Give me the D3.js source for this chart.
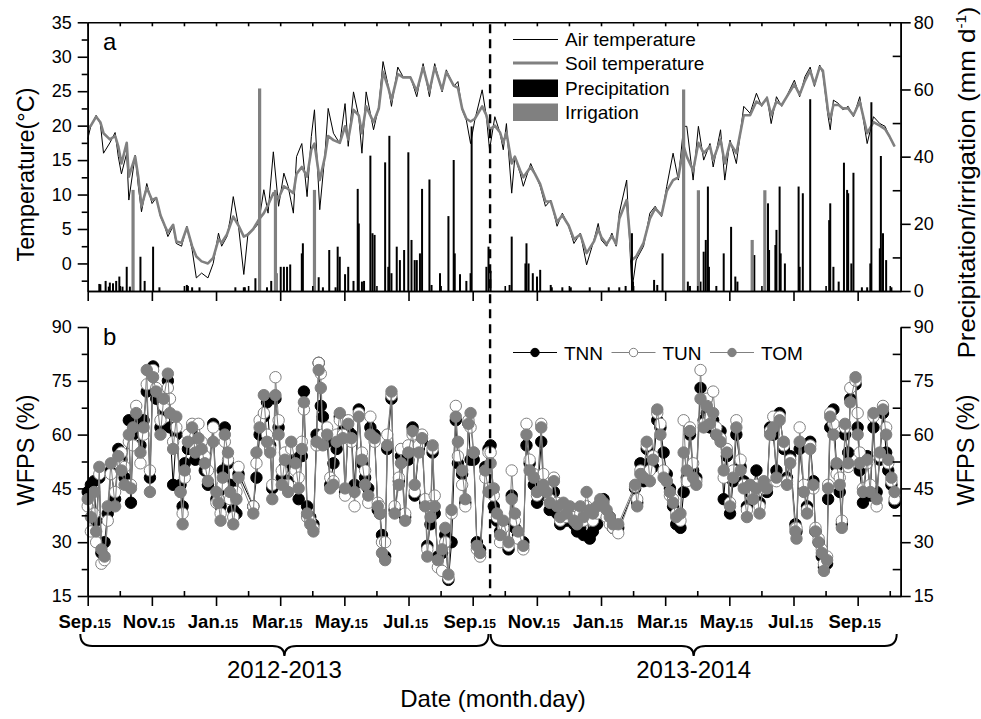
<!DOCTYPE html>
<html>
<head>
<meta charset="utf-8">
<script src="https://cdn.jsdelivr.net/npm/d3@7"></script>
<style>
  body { margin: 0; background: #fff; }
  svg { display: block; }
</style>
</head>
<body>
<script>
// ---- data (day index counted from Sep 15 2012) ----
var airTemp = [[0,18],[3,20],[8,21.5],[12,20.3],[15,16],[21,17.5],[26,19],[29,15.5],[32,13],[37,16],
  [39,9.2],[45,15.7],[48,11.2],[51,7.5],[56,11.6],[61,8.7],[65,9.5],[69,6.8],[73,5.4],[76,3.9],
  [81,5.4],[84,2.9],[89,2.5],[94,5.4],[99,2],[103,-2.1],[108,-1.4],[114,-2.1],[119,0],[124,4.4],
  [127,2.5],[132,3.9],[135,6.3],[138,9.7],[143,5.4],[148,-1.6],[152,4.4],[157,4.9],[162,5.8],[167,10.7],
  [171,7.3],[176,16.2],[181,8.3],[186,13.1],[190,11.2],[195,7.3],[198,15.5],[203,17.4],[208,9.7],[212,18.4],
  [215,22.3],[220,7.8],[225,16],[228,22.5],[233,18.9],[239,17.4],[244,23.2],[247,17],[252,24.9],[257,21.3],
  [260,16],[264,24.9],[271,19.4],[276,22.8],[280,29.3],[285,25.7],[288,22.8],[294,28.5],[299,27.1],[306,27.1],
  [312,24.2],[318,29],[324,24.2],[329,29],[336,24.9],[340,28.1],[347,25.7],[351,26.4],[355,22.3],[359,20.8],
  [363,17.4],[367,20.8],[374,25.2],[378,21.3],[381,16.5],[386,21.3],[391,18.9],[394,16.5],[397,20.3],[402,10.2],
  [405,15.5],[410,13.1],[413,11.2],[420,14.5],[424,13.1],[429,11.2],[434,8.3],[439,9.2],[445,5.4],[450,7.3],
  [456,5.4],[461,2.9],[467,4.4],[473,-0.2],[480,3.4],[484,5.8],[487,3.4],[492,2.5],[497,4.4],[501,2.5],
  [504,7.3],[511,12.1],[516,-3.8],[520,0.5],[527,2.5],[533,7.3],[538,8.3],[544,6.8],[549,11.2],[555,16],
  [560,12.1],[565,19.9],[568,19.9],[574,12.1],[579,19.9],[584,15],[590,17.4],[593,14],[600,19.4],[604,12.1],
  [609,17.9],[615,14.5],[622,22.8],[628,21.8],[634,24.7],[639,22.8],[644,24.2],[648,20.3],[653,24.2],[658,22.8],
  [664,24.7],[670,26.6],[675,24.2],[680,27.1],[685,28.5],[689,25.7],[694,28.8],[697,27.6],[702,21.3],[704,19.4],
  [707,23.7],[712,23.2],[716,22.3],[721,22.8],[726,21.3],[732,24.2],[739,17.4],[745,21.3],[751,20.3],[756,19.9],
  [760,18.4],[765,17]];

var soilTemp = [[0,19.6],[3,20],[8,21.3],[12,20.5],[15,18.9],[21,18],[26,18.5],[29,17],[32,14.5],[37,17.5],
  [39,12.6],[45,15.5],[48,12.5],[51,8.3],[56,11],[61,9.2],[65,9.5],[69,7],[73,5.5],[76,4.5],
  [81,5.6],[84,3.2],[89,3],[94,5.2],[99,2.5],[103,1],[108,0.3],[114,0],[119,0.8],[124,3.5],
  [127,3],[132,4.2],[135,5.5],[138,6.8],[143,5.5],[148,3.9],[152,4.2],[157,5],[162,6.3],[167,7.3],
  [171,8.5],[176,10.2],[181,9.5],[186,11.2],[190,10.8],[195,10.2],[198,13],[203,14],[208,12.6],[212,16.5],
  [215,17.4],[220,12.1],[225,15.5],[228,18.5],[233,17.9],[239,17.5],[244,19.9],[247,18],[252,22.3],[257,21.5],
  [260,18.9],[264,22.8],[271,20.5],[276,22.5],[280,27.8],[285,25.5],[288,23.7],[294,27.5],[299,27],[306,27],
  [312,25],[318,28.5],[324,25],[329,28.5],[336,25.2],[340,27.8],[347,25.8],[351,25.5],[355,22.5],[359,21],
  [363,20.6],[367,21],[374,22.8],[378,21.5],[381,19.4],[386,20],[391,19],[394,17.5],[397,19],[402,14.5],
  [405,15.5],[410,13.5],[413,12.5],[420,14],[424,13],[429,11.5],[434,9],[439,9],[445,6],[450,7],
  [456,5.5],[461,3.5],[467,4.2],[473,1.5],[480,3.2],[484,5],[487,3.8],[492,2.8],[497,4],[501,2.8],
  [504,6.5],[511,9.2],[516,0.5],[520,1],[527,3],[533,6.5],[538,8],[544,7],[549,10.5],[555,12.1],
  [560,12.5],[565,17],[568,15.5],[574,13.5],[579,17.5],[584,16],[590,17],[593,15],[600,18],[604,14.5],
  [609,17.5],[615,16],[622,21.5],[628,21.5],[634,23.5],[639,23],[644,24],[648,21.5],[653,23.5],[658,23],
  [664,24.5],[670,26],[675,24.5],[680,26.5],[685,28],[689,26],[694,28.5],[697,28],[702,22],[704,21],
  [707,23],[712,23],[716,22.5],[721,22.5],[726,21.5],[732,23.5],[739,18.9],[745,20.5],[751,20],[756,19.5],
  [760,18.5],[765,17]];

var precipitation = [[11,2.1],[12,2],[17,3],[20,1.3],[21,2.5],[24,2.3],[27,3],[30,4.3],[33,1.3],[37,7.2],
  [40,1.3],[50,10.2],[54,3],[62,13.2],[68,1.1],[94,1.8],[95,1.5],[99,1.1],[106,1.1],[140,1.1],
  [148,1.1],[149,1.1],[159,3.8],[170,1.1],[174,3],[179,5.3],[183,7.2],[186,7.2],[189,7.2],[192,7.9],
  [203,11.2],[204,14.2],[219,4.1],[223,1.1],[229,12.2],[235,1.1],[237,13.2],[239,10.2],[244,5],[247,7.2],
  [252,3],[256,30.4],[257,20.1],[260,2.8],[262,3],[268,40.3],[270,17.2],[272,16.7],[282,38.3],[285,7.2],
  [286,46.2],[288,5.3],[293,13.2],[296,9.2],[300,12.2],[304,41.3],[307,15.2],[310,9.2],[312,9.2],[315,11.2],
  [317,30.4],[324,33.2],[326,1.8],[334,5.3],[342,22.3],[347,39],[348,11.2],[353,5],[359,3],[363,5.3],
  [364,49],[378,7.2],[380,13.2],[382,6],[400,1.8],[402,16.2],[415,8.2],[416,14.2],[418,8.2],[422,5.3],
  [426,4.3],[429,6.3],[439,1.8],[440,1.1],[450,1.1],[458,1.1],[476,1.1],[494,1.1],[504,1.1],[510,1.5],
  [516,17.2],[517,2.8],[537,3.3],[540,1.8],[545,11.2],[569,2.8],[571,1.5],[581,2.8],[584,11.7],[586,15.2],
  [588,31.1],[589,7.2],[596,1.5],[603,11.2],[610,19.1],[614,4.3],[616,2.8],[632,10.7],[645,26.1],[646,12.2],
  [652,13.7],[653,18.2],[656,31.1],[657,11.2],[661,8.2],[674,31.1],[675,7.2],[678,29.1],[685,57.1],[703,21.1],
  [704,26.1],[707,7.2],[712,2.8],[717,38.2],[720,30.1],[721,29.1],[724,8.2],[726,35.2],[734,1.1],[739,1.1],
  [742,8.2],[743,56.2],[751,12.7],[752,40.2],[754,17.2],[757,9.2],[762,1.1]];

var irrigation = [[43,30.1],[163,60.3],[178,30.1],[215,30.1],[565,60],[579,30],[630,15.2],[642,30]];

var wfpsDays = [0,3,6,8,11,13,16,19,22,26,
  29,32,35,39,41,43,46,50,53,56,
  59,62,65,69,72,76,78,81,84,88,
  90,92,95,99,102,105,108,111,114,119,
  122,124,126,128,130,133,135,138,141,143,
  157,160,163,167,170,173,175,178,181,184,
  187,190,193,197,200,203,205,208,211,214,
  217,219,221,223,227,230,233,236,239,242,
  244,247,250,253,257,260,263,266,268,272,
  275,277,279,282,284,288,291,295,297,301,
  304,308,310,314,317,320,322,325,327,329,
  332,336,339,342,345,349,351,355,358,361,
  363,366,369,372,377,380,382,385,388,391,
  394,399,402,405,408,413,416,419,423,426,
  430,432,435,438,442,445,448,451,454,457,
  461,464,467,470,473,476,479,483,486,489,
  492,495,498,503,519,521,524,527,530,533,
  536,540,543,546,549,552,555,558,562,565,
  568,571,574,577,581,584,587,590,593,596,
  600,603,606,609,612,615,619,622,625,628,
  631,634,637,641,644,647,650,653,656,660,
  663,666,671,672,675,679,682,685,688,690,
  693,696,698,701,702,704,707,710,713,715,
  718,721,723,728,730,732,735,739,742,745,
  748,751,754,757,759,762,765];

var tnn = [44,46,47,36,48,27,30,38,50,42,
  56,53,48,64,41,60,63,57,64,72,
  48,79,70,62,66,75,62,46,60,46,
  40,52,56,60,53,58,55,50,46,63,
  42,44,40,50,62,52,46,39,38,49,
  40,48,60,65,69,57,45,70,62,48,
  51,47,54,55,42,54,72,40,37,35,
  60,80,68,65,58,46,52,56,65,61,
  44,61,60,46,67,52,48,45,62,60,
  39,38,32,26,56,70,39,47,54,37,
  53,62,43,56,58,41,29,35,55,38,
  26,27,32,19.5,30,64,52,49,41,63,
  53,53,30,28,51,56,57,40,36,33,
  35,28,43,34,32,30,57,52,46,41,
  58,45,43,39,44,38,35,38,36,37,
  35,33,34,32,38,31,33,35,40,42,
  38,37,34,34,45,41,52,47,56,52,
  51,64,62,55,49,45,40,35,34,44,
  48,60,50,48,73,64,66,62,64,60,
  61,42,54,38,47,60,51,47,40,44,
  45,50,41,46,44,62,60,50,66,56,
  48,54,35,33,56,45,40,58,47,33,
  30,26,23,24,42,62,67,51,44,35,
  60,55,70,74,62,50,41,54,43,62,
  44,53,66,55,50,46,41];

var tun = [40,33,38,30,49,24,25,36,49,44,
  52,55,51,58,46,57,68,52,60,74,
  50,78,73,64,68,73,70,58,62,44,
  38,48,60,63,56,63,58,54,50,62,
  41,42,38,46,58,53,42,37,44,51,
  40,52,64,66,60,56,46,76,64,50,
  55,46,56,50,48,58,67,37,36,34,
  57,80,77,60,62,48,47,60,64,60,
  43,64,58,40,66,55,50,41,65,58,
  41,40,30,30,60,71,40,48,56,38,
  57,60,44,57,60,42,28,40,56,43,
  23,22,30,20,38,68,54,46,40,64,
  62,55,28,26,48,55,55,43,37,30,
  34,29,50,36,31,28,63,53,49,43,
  63,49,45,42,48,41,36,39,37,39,
  37,36,38,36,40,37,36,38,41,40,
  37,35,34,32.5,45.5,42,50,49,57,50,
  54,66,63,50,47,43,42,38,36,64,
  47,62,52,47,78,63,70,65,72,62,
  59,48,56,41,50,64,53,46,39,45,
  43,46,40,45,46,61,65,47,65,57,
  47,53,34,34,62,46,39,57,45,34,
  31,28,24,26,46,66,63,49,48,36,
  62,51,73,75,66,55,45,52,46,65,
  40,54,68,62,52,47,42];

var tom = [42,37,44,33,51,28,26,40,52,40,
  54,50,46,60,45,62,66,55,62,78,
  44,76,72,60,70,77,66,56,65,44,
  35,50,58,62,55,59,56,52,47,58,
  44,41,36,48,60,55,44,35,42,48,
  38,55,62,71,58,55,42,71,60,46,
  53,44,58,52,45,56,69,38,35,33,
  58,78,73,57,60,45,46,58,66,59,
  45,63,59,44,65,53,46,43,60,59,
  40,38,27,25,57,72,38,46,52,36,
  55,61,46,55,59,40,26,37,57,40,
  25,28,34,21,39,65,58,50,42,63,
  66,55,29,27,50,44,52,45,38,32,
  36,30,42,38,33,29,60,50,48,44,
  62,46,44,41,47,40,37,41,38,40,
  36,35,40,37,44,39,38,40,42,41,
  39,37,35,35,46,40,49,48,58,47,
  53,67,60,48,47,44,41,37,38,55,
  50,61,48,46,70,62,68,63,66,60,
  58,50,55,40,48,62,50,45,37,46,
  42,45,38,47,45,60,62,48,64,58,
  46,52,33,31,58,44,38,56,46,33,
  30,27,22,25,45,65,60,52,46,34,
  63,52,69,76,60,52,44,53,44,66,
  42,55,67,60,53,48,44];

var monthLabels = ['Sep.', 'Nov.', 'Jan.', 'Mar.', 'May.', 'Jul.', 'Sep.',
  'Nov.', 'Jan.', 'Mar.', 'May.', 'Jul.', 'Sep.'];
var seasons = [{label: '2012-2013', from: -7, to: 380}, {label: '2013-2014', from: 382, to: 767}];
var seasonSplit = 381.5;

var tempTicks = [0, 5, 10, 15, 20, 25, 30, 35];
var tempMinor = [-2.5, 2.5, 7.5, 12.5, 17.5, 22.5, 27.5, 32.5];
var rainTicks = [0, 20, 40, 60, 80];
var rainMinor = [10, 30, 50, 70];
var wfpsTicks = [15, 30, 45, 60, 75, 90];
var wfpsMinor = [22.5, 37.5, 52.5, 67.5, 82.5];

// ---- layout ----
var FONT = '"Liberation Sans", Arial, Helvetica, sans-serif';
var GRAY = '#808080';
var W = 981, H = 719;
var left = 87.7, right = 900.7;
var topA = 22.3, bottomA = 291, topB = 327, bottomB = 596;

var svg = d3.select('body').append('svg')
  .attr('width', W)
  .attr('height', H)
  .attr('font-family', FONT);

var x = d3.scaleLinear().domain([0, 770.8]).range([left, right]);
var yT = d3.scaleLinear().domain([-4, 35]).range([bottomA, topA]);
var yP = d3.scaleLinear().domain([0, 80]).range([bottomA, topA]);
var yW = d3.scaleLinear().domain([15, 90]).range([bottomB, topB]);

var monthStep = 365 / 12;
var monthTicks = d3.range(0, 26).map(function(k) { return k * monthStep; });
var labelTicks = monthTicks.filter(function(d, i) { return i % 2 === 0; });
var minorMonths = monthTicks.filter(function(d, i) { return i % 2 === 1; });

function drawAxis(gen, tx, ty, fontSize) {
  var g = svg.append('g')
    .attr('transform', 'translate(' + tx + ',' + ty + ')')
    .call(gen.tickSizeOuter(0));
  g.attr('font-family', FONT).attr('font-size', fontSize || 18);
  g.select('.domain').attr('stroke', '#000').attr('stroke-width', 1.6);
  g.selectAll('.tick line').attr('stroke', '#000').attr('stroke-width', 1.6);
  g.selectAll('.tick text').attr('fill', '#000');
  return g;
}
var noLabel = function() { return ''; };

// ---- panel a ----
var lineT = d3.line()
  .x(function(d) { return x(d[0]); })
  .y(function(d) { return yT(d[1]); });

svg.append('path').datum(airTemp)
  .attr('d', lineT).attr('fill', 'none')
  .attr('stroke', '#000').attr('stroke-width', 1);
svg.append('path').datum(soilTemp)
  .attr('d', lineT).attr('fill', 'none')
  .attr('stroke', GRAY).attr('stroke-width', 2.6)
  .attr('stroke-linejoin', 'round');

svg.append('g').selectAll('line').data(precipitation).enter().append('line')
  .attr('x1', function(d) { return x(d[0]); })
  .attr('x2', function(d) { return x(d[0]); })
  .attr('y1', yP(0))
  .attr('y2', function(d) { return yP(d[1]); })
  .attr('stroke', '#000').attr('stroke-width', 2);

svg.append('g').selectAll('line').data(irrigation).enter().append('line')
  .attr('x1', function(d) { return x(d[0]); })
  .attr('x2', function(d) { return x(d[0]); })
  .attr('y1', yP(0))
  .attr('y2', function(d) { return yP(d[1]); })
  .attr('stroke', GRAY).attr('stroke-width', 3.2);

drawAxis(d3.axisLeft(yT).tickValues(tempTicks).tickSize(10).tickPadding(6), left, 0);
drawAxis(d3.axisLeft(yT).tickValues(tempMinor).tickSize(6).tickFormat(noLabel), left, 0);
drawAxis(d3.axisRight(yP).tickValues(rainTicks).tickSize(10).tickPadding(3), right, 0);
drawAxis(d3.axisRight(yP).tickValues(rainMinor).tickSize(-8).tickFormat(noLabel), right, 0);
drawAxis(d3.axisTop(x).tickValues(monthTicks).tickSize(-4).tickFormat(noLabel), 0, topA);
drawAxis(d3.axisBottom(x).tickValues(labelTicks).tickSize(10).tickFormat(noLabel), 0, bottomA);
drawAxis(d3.axisBottom(x).tickValues(minorMonths).tickSize(-5).tickFormat(noLabel), 0, bottomA);

svg.append('text').attr('x', 103).attr('y', 50)
  .attr('font-size', 24).text('a');

// legend a
var legA = svg.append('g').attr('font-size', 19);
legA.append('line').attr('x1', 513).attr('x2', 558).attr('y1', 39.5).attr('y2', 39.5)
  .attr('stroke', '#000').attr('stroke-width', 1.2);
legA.append('line').attr('x1', 513).attr('x2', 558).attr('y1', 63).attr('y2', 63)
  .attr('stroke', GRAY).attr('stroke-width', 3);
legA.append('rect').attr('x', 513).attr('y', 79.5).attr('width', 45).attr('height', 17.5)
  .attr('fill', '#000');
legA.append('rect').attr('x', 513).attr('y', 103.5).attr('width', 45).attr('height', 17.5)
  .attr('fill', GRAY);
[['Air temperature', 46], ['Soil temperature', 69.5], ['Precipitation', 95], ['Irrigation', 119]]
  .forEach(function(r) {
    legA.append('text').attr('x', 565).attr('y', r[1]).text(r[0]);
  });

// ---- panel b ----
var series = [
  {name: 'TNN', values: tnn, line: '#000', fill: '#000', stroke: '#000'},
  {name: 'TUN', values: tun, line: GRAY, fill: '#fff', stroke: GRAY},
  {name: 'TOM', values: tom, line: GRAY, fill: GRAY, stroke: GRAY}
];

var lineW = d3.line()
  .defined(function(d) { return d[1] != null; })
  .x(function(d) { return x(d[0]); })
  .y(function(d) { return yW(d[1]); });

series.forEach(function(s) {
  var pts = wfpsDays.map(function(d, i) { return [d, s.values[i]]; })
    .filter(function(p) { return p[1] != null; });
  var g = svg.append('g').attr('class', 'series-' + s.name);
  g.append('path').datum(pts)
    .attr('d', lineW).attr('fill', 'none')
    .attr('stroke', s.line).attr('stroke-width', 1);
  g.selectAll('circle').data(pts).enter().append('circle')
    .attr('cx', function(d) { return x(d[0]); })
    .attr('cy', function(d) { return yW(d[1]); })
    .attr('r', 5.7)
    .attr('fill', s.fill)
    .attr('stroke', s.stroke)
    .attr('stroke-width', 1);
});

drawAxis(d3.axisLeft(yW).tickValues(wfpsTicks).tickSize(10).tickPadding(6), left, 0);
drawAxis(d3.axisLeft(yW).tickValues(wfpsMinor).tickSize(6).tickFormat(noLabel), left, 0);
drawAxis(d3.axisRight(yW).tickValues(wfpsTicks).tickSize(10).tickPadding(3), right, 0);
drawAxis(d3.axisRight(yW).tickValues(wfpsMinor).tickSize(-8).tickFormat(noLabel), right, 0);
drawAxis(d3.axisBottom(x).tickValues(labelTicks).tickSize(10).tickFormat(noLabel), 0, bottomB);
drawAxis(d3.axisBottom(x).tickValues(minorMonths).tickSize(-5).tickFormat(noLabel), 0, bottomB);

svg.append('text').attr('x', 103).attr('y', 345)
  .attr('font-size', 24).text('b');

// legend b
var legB = svg.append('g').attr('font-size', 19);
[[513, 'TNN'], [611.5, 'TUN'], [710, 'TOM']].forEach(function(r, i) {
  var s = series[i];
  legB.append('line').attr('x1', r[0]).attr('x2', r[0] + 44)
    .attr('y1', 352.5).attr('y2', 352.5)
    .attr('stroke', s.line).attr('stroke-width', 1);
  legB.append('circle').attr('cx', r[0] + 22).attr('cy', 352.5).attr('r', 4.2)
    .attr('fill', s.fill).attr('stroke', s.stroke).attr('stroke-width', 1);
  legB.append('text').attr('x', r[0] + 51).attr('y', 359.5).text(r[1]);
});

// month labels
var monthG = svg.append('g').attr('font-weight', 'bold');
labelTicks.forEach(function(t, i) {
  var txt = monthG.append('text')
    .attr('x', x(t) - 3)
    .attr('y', 628)
    .attr('text-anchor', 'middle');
  txt.append('tspan').attr('font-size', 18.5).text(monthLabels[i]);
  txt.append('tspan').attr('font-size', 12).text('15');
});

// season split
svg.append('line')
  .attr('x1', x(seasonSplit)).attr('x2', x(seasonSplit))
  .attr('y1', topA + 2).attr('y2', bottomB)
  .attr('stroke', '#000').attr('stroke-width', 2.4)
  .attr('stroke-dasharray', '9,6');

// braces
function bracePath(x1, x2) {
  var y0 = 634, ym = 646, yt = 656, h = 12, xm = (x1 + x2) / 2;
  return 'M' + x1 + ',' + y0 +
    'Q' + x1 + ',' + ym + ' ' + (x1 + h) + ',' + ym +
    'L' + (xm - h) + ',' + ym +
    'Q' + xm + ',' + ym + ' ' + xm + ',' + yt +
    'Q' + xm + ',' + ym + ' ' + (xm + h) + ',' + ym +
    'L' + (x2 - h) + ',' + ym +
    'Q' + x2 + ',' + ym + ' ' + x2 + ',' + y0;
}
seasons.forEach(function(s) {
  svg.append('path')
    .attr('d', bracePath(x(s.from), x(s.to)))
    .attr('fill', 'none').attr('stroke', '#000').attr('stroke-width', 2);
  svg.append('text')
    .attr('x', x((s.from + s.to) / 2)).attr('y', 678)
    .attr('text-anchor', 'middle').attr('font-size', 24)
    .text(s.label);
});

// axis titles
svg.append('text').attr('x', 493).attr('y', 707)
  .attr('text-anchor', 'middle').attr('font-size', 24)
  .text('Date (month.day)');

svg.append('text')
  .attr('transform', 'translate(33.5,174.5) rotate(-90)')
  .attr('text-anchor', 'middle').attr('font-size', 23.5)
  .text('Temperature(\u00B0C)');

svg.append('text')
  .attr('transform', 'translate(33.5,450) rotate(-90)')
  .attr('text-anchor', 'middle').attr('font-size', 23.5)
  .text('WFPS (%)');

svg.append('text')
  .attr('transform', 'translate(973.5,450) rotate(-90)')
  .attr('text-anchor', 'middle').attr('font-size', 23.5)
  .text('WFPS (%)');

var rt = svg.append('text')
  .attr('transform', 'translate(975,182.5) rotate(-90)')
  .attr('text-anchor', 'middle').attr('font-size', 24)
  .attr('textLength', 352).attr('lengthAdjust', 'spacingAndGlyphs');
rt.append('tspan').text('Precipitation/irrigation (mm d');
rt.append('tspan').attr('font-size', 14).attr('dy', -9).text('-1');
rt.append('tspan').attr('dy', 9).text(')');
</script>
</body>
</html>
